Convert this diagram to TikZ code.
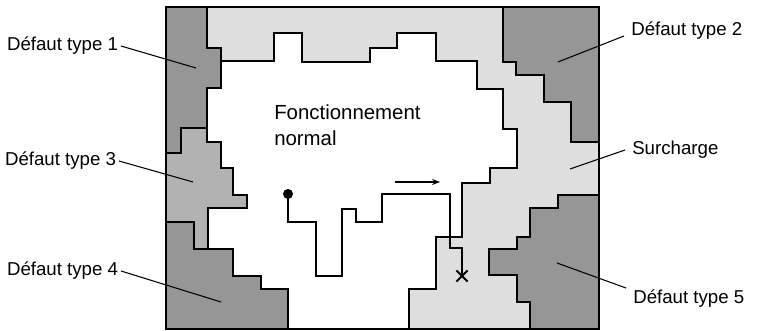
\documentclass[tikz,border=0pt]{standalone}
\usepackage{fontspec}
\setmainfont{Liberation Sans}
\usetikzlibrary{arrows.meta,shapes.misc}

% fills of the operating-domain map
\definecolor{loadfill}{RGB}{222,222,222}
\definecolor{faultfill}{RGB}{150,150,150}
\definecolor{midfill}{RGB}{178,178,178}

\tikzset{
  zone/.style={draw=black, line width=0.8pt, line join=miter},
  faultzone/.style={zone, fill=faultfill},
  midzone/.style={zone, fill=midfill},
  normalzone/.style={zone, fill=white, line width=1pt},
  frame/.style={draw=black, line width=1.1pt},
  lbl/.style={inner xsep=2pt, inner ysep=1pt, font=\fontsize{14}{17}\selectfont},
  rlbl/.style={lbl, inner xsep=5.25pt},
  leader/.style={draw=black, line width=0.8pt},
  traj/.style={draw=black, line width=1.9pt, line join=miter},
  startdot/.style={circle, fill=black, inner sep=0pt, minimum size=7.5pt},
  enddot/.style={cross out, draw=black, line width=1.4pt, inner sep=0pt, minimum size=7pt},
  dirarrow/.style={draw=black, line width=0.9pt, -{Stealth[length=6pt,width=4.5pt]}}
}

\begin{document}
\begin{tikzpicture}[x=0.75pt, y=-0.75pt]
\useasboundingbox (0,0) rectangle (766,331);

% overload zone: the whole frame background
\fill[loadfill] (166,7) rectangle (599,329);

% normal operating region
\path[normalzone] (221,61) -- (274,61) -- (274,33) -- (302,33) -- (302,62)
  -- (370,62) -- (370,48) -- (397,48) -- (397,33) -- (436,33) -- (436,61)
  -- (477,61) -- (477,89) -- (503,89) -- (503,129) -- (517,129) -- (517,168)
  -- (490,168) -- (490,183) -- (462,183) -- (462,237) -- (436,237) -- (436,289)
  -- (409,289) -- (409,329) -- (288,329) -- (288,289) -- (261,289) -- (261,276)
  -- (233,276) -- (233,249) -- (208,249) -- (208,208) -- (247,208) -- (247,195)
  -- (233,195) -- (233,168) -- (221,168) -- (221,142) -- (207,142) -- (207,88)
  -- (221,88) -- cycle;

% fault type 1
\path[faultzone] (166,7) -- (207,7) -- (207,48) -- (221,48) -- (221,88)
  -- (207,88) -- (207,128) -- (181,128) -- (181,153) -- (166,153) -- cycle;
% fault type 3
\path[midzone] (166,153) -- (181,153) -- (181,128) -- (207,128) -- (207,142)
  -- (221,142) -- (221,168) -- (233,168) -- (233,195) -- (247,195) -- (247,208)
  -- (208,208) -- (208,249) -- (194,249) -- (194,222) -- (166,222) -- cycle;
% fault type 4
\path[faultzone] (166,222) -- (194,222) -- (194,249) -- (233,249) -- (233,276)
  -- (261,276) -- (261,289) -- (288,289) -- (288,329) -- (166,329) -- cycle;
% fault type 2
\path[faultzone] (503,7) -- (599,7) -- (599,142) -- (571,142) -- (571,102)
  -- (544,102) -- (544,75) -- (516,75) -- (516,62) -- (503,62) -- cycle;
% fault type 5
\path[faultzone] (558,195) -- (599,195) -- (599,329) -- (530,329) -- (530,302)
  -- (517,302) -- (517,275) -- (489,275) -- (489,249) -- (517,249) -- (517,237)
  -- (530,237) -- (530,208) -- (558,208) -- cycle;

\path[frame] (166,7) rectangle (599,329);

% centre text
\node[anchor=north west, align=left, inner sep=0pt,
      font=\fontsize{15.3}{19.5}\selectfont] (normal) at (274,104)
  {Fonctionnement\\normal};

% operating trajectory
\node[startdot] (start) at (288,194) {};
\node[enddot] (stop) at (462,276) {};
\coordinate (q1) at (288,222);
\coordinate (q2) at (316,222);
\coordinate (q3) at (316,276);
\coordinate (q4) at (342,276);
\coordinate (q5) at (342,209);
\coordinate (q6) at (356,209);
\coordinate (q7) at (356,222);
\coordinate (q8) at (382,222);
\coordinate (q9) at (382,194);
\coordinate (q10) at (450,194);
\coordinate (q11) at (450,248);
\coordinate (q12) at (462,248);
\path[traj] (start.center) -- (q1) -- (q2) -- (q3) -- (q4) -- (q5) -- (q6)
  -- (q7) -- (q8) -- (q9) -- (q10) -- (q11) -- (q12) -- (stop.center);

\coordinate (dirA) at (395,182);
\coordinate (dirB) at (440,182);
\path[dirarrow] (dirA) -- (dirB);

% labels and leader lines
\node[lbl, anchor=east] (l1) at (121,46) {Défaut type 1};
\coordinate (t1) at (196,68);
\path[leader] (l1.east) -- (t1);

\node[rlbl, anchor=base west] (l2) at (624,36) {Défaut type 2};
\coordinate (t2) at (558,62);
\path[leader] (l2.base west) -- (t2);

\node[lbl, anchor=east] (l3) at (119,161) {Défaut type 3};
\coordinate (t3) at (193,182);
\path[leader] (l3.east) -- (t3);

\node[rlbl, anchor=west] (l0) at (625,150) {Surcharge};
\coordinate (t0) at (570,169);
\path[leader] (l0.west) -- (t0);

\node[lbl, anchor=east] (l4) at (121,271) {Défaut type 4};
\coordinate (t4) at (221,302);
\path[leader] (l4.east) -- (t4);

\node[rlbl, anchor=north west] (l5) at (626,288) {Défaut type 5};
\coordinate (t5) at (557,263);
\path[leader] (l5.north west) -- (t5);
\end{tikzpicture}
\end{document}
